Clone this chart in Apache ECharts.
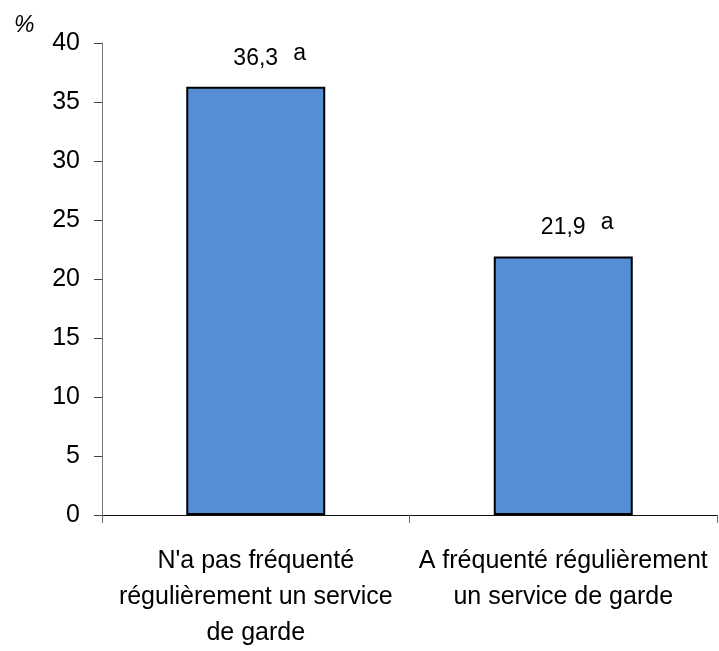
<!DOCTYPE html>
<html>
<head>
<meta charset="utf-8">
<script src="https://cdn.jsdelivr.net/npm/echarts@6/dist/echarts.min.js"></script>
<style>
  html, body { margin: 0; padding: 0; background: #fff; }
  #chart { width: 719px; height: 651px; }
</style>
</head>
<body>
<div id="chart"></div>
<script>
const categories = [
  "N'a pas fréquenté\nrégulièrement un service\nde garde",
  "A fréquenté régulièrement\nun service de garde"
];
const values = [36.3, 21.9];
const valueLabels = ["36,3", "21,9"];
const letters = ["a", "a"];

const chart = echarts.init(document.getElementById("chart"));
const font = "Liberation Sans, Arial, sans-serif";

chart.setOption({
  animation: false,
  title: {
    text: "%",
    left: 9,
    top: 9,
    textStyle: { fontFamily: font, fontSize: 23, fontStyle: "italic", fontWeight: "normal", color: "#000" },
  },
  grid: { left: 102, right: 2, top: 43, bottom: 132 },
  xAxis: {
    type: "category",
    data: categories,
    axisLine: { lineStyle: { color: "#111", width: 1 } },
    axisTick: { show: true, length: 8, lineStyle: { color: "#666" } },
    axisLabel: {
      color: "#000",
      fontFamily: font,
      fontSize: 25,
      lineHeight: 36,
      margin: 28,
      interval: 0,
    },
  },
  yAxis: {
    type: "value",
    min: 0,
    max: 40,
    interval: 5,
    axisLine: { show: true, lineStyle: { color: "#777", width: 1 } },
    axisTick: { show: true, length: 8, lineStyle: { color: "#444" } },
    splitLine: { show: false },
    axisLabel: { color: "#000", fontFamily: font, fontSize: 25, margin: 22 },
  },
  series: [
    {
      type: "bar",
      data: values,
      barWidth: 139,
      itemStyle: { color: "#558ED5", borderColor: "#000", borderWidth: 2 },
      label: {
        show: true,
        position: "top",
        distance: 12,
        formatter: (p) => `{p|}{v|${valueLabels[p.dataIndex]}}{s|${letters[p.dataIndex]}}`,
        rich: {
          p: { width: 28 },
          v: { fontFamily: font, fontSize: 23, color: "#000", lineHeight: 24 },
          s: { fontFamily: font, fontSize: 23, color: "#000", width: 28, align: "right", padding: [0, 0, 10, 0] },
        },
      },
    },
  ],
});
</script>
</body>
</html>
